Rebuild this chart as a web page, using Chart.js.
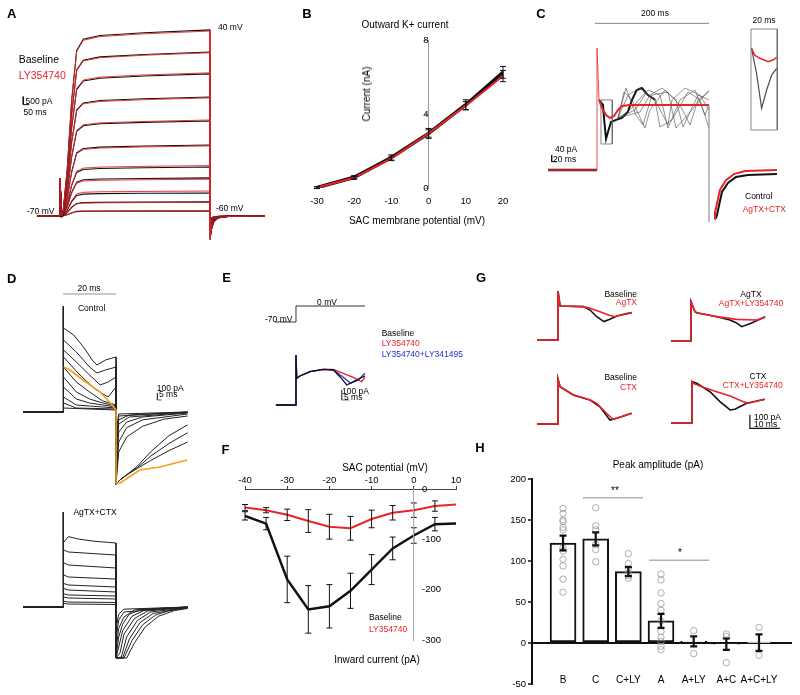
<!DOCTYPE html>
<html>
<head>
<meta charset="utf-8">
<title>SAC currents</title>
<script src="https://cdn.jsdelivr.net/npm/chart.js@4.4.1/dist/chart.umd.min.js"></script>
<style>
    body { margin: 0; background: #fff; }
    #fig { position: relative; width: 800px; height: 695px; overflow: hidden; font-family: "Liberation Sans", Arial, sans-serif; color: #000; }
    #fig canvas { position: absolute; }
    .t { position: absolute; white-space: nowrap; font-size: 8.5px; line-height: 1; }
    .m { font-size: 10px; }
    .l { font-size: 10.5px; }
    .p { font-size: 13px; font-weight: bold; }
    .red { color: #e8232a; }
    .blue { color: #2a2ad4; }
</style>
</head>
<body>
<div id="fig"></div>
<script>
const RED = '#e8232a', BLACK = '#111111', GRAY = '#8a8a8a', ORANGE = '#f5a01a', BLUE = '#2a2ad4', SWEEP = '#4a4a4a';

// ---- A: K+ current family (ms, pA) ----
const aStepMv = [-60, -50, -40, -30, -20, -10, 0, 10, 20, 30, 40];
const aBaselinePa = [310, 880, 1440, 2380, 3060, 4440, 5940, 7440, 8880, 10250, 11630];
const aLyPa = [340, 850, 1560, 2300, 3150, 4380, 6000, 7380, 8950, 10200, 11560];
const aTailDipPa = [-200, -350, -500, -650, -800, -950, -1100, -1200, -1300, -1400, -1500];
const aSpikePa = 2375;
const aRiseMs = [25, 60, 97, 139, 194, 333, 700, 1250];
const aRiseFrac = [0.02, 0.25, 0.62, 0.89, 0.95, 0.97, 0.985, 1];
const aTailMs = [1265, 1285, 1320, 1400, 1708];
const aTailFrac = [0.5, 0.22, 0.08, 0.02, 0];
const aScaleBar = [[-306, 7460], [-306, 6960], [-256, 6960]];

// ---- B: I-V of outward current (mV, nA) ----
const bMv = [-30, -20, -10, 0, 10, 20];
const bBaselineNa = [0.02, 0.58, 1.65, 2.95, 4.5, 6.25];
const bBaselineSem = [0.05, 0.09, 0.14, 0.27, 0.27, 0.32];
const bLyNa = [0.02, 0.55, 1.6, 2.95, 4.45, 6.05];
const bLySem = [0.05, 0.08, 0.12, 0.2, 0.22, 0.3];

// ---- C: control vs AgTX+CTX (ms, pA) ----
const cHolding = [[-87.5, 0], [0, 0]];
const cOnset = [[0, 0], [0, 750], [3.6, 431]];
const cOffset = [[200, 400], [200, -320]];
const cRed = [[3.6, 431], [8.9, 381], [16.1, 338], [23.2, 320], [30.4, 332], [37.5, 369], [44.6, 394], [58.9, 400], [200, 400]];
const cRedTail = [[209, -300], [210.7, -264], [219.6, -123], [230.4, -62], [244.7, -25], [264.3, -6], [321.4, 0]];
const cBlack = [[3.6, 431], [10.7, 400], [12.5, 320], [16.1, 191], [19.6, 234], [25, 295], [34, 308], [44.6, 320], [55, 357], [62.5, 431], [71, 492], [80, 504], [91, 461], [104, 431]];
const cBlackTail = [[212, -300], [214.3, -277], [223.2, -135], [233.9, -80], [248.2, -43], [269.6, -31], [321.4, -25]];
const cSweeps = [
    [[37.5, 320], [55.4, 461], [76.8, 504], [103.6, 431], [126.8, 277], [133.9, 431], [157.1, 504], [183.9, 461], [200, 369]],
    [[37.5, 320], [48.2, 480], [62.5, 431], [85.7, 258], [94.6, 369], [121.4, 492], [148.2, 400], [166.1, 277], [180.4, 431], [200, 480]],
    [[37.5, 320], [67.9, 369], [91.1, 492], [112.5, 461], [126.8, 258], [148.2, 431], [175, 492], [192.9, 338], [200, 400]],
    [[37.5, 320], [58.9, 369], [85.7, 474], [103.6, 431], [112.5, 264], [133.9, 308], [162.5, 480], [183.9, 431], [200, 258]],
    [[37.5, 320], [51.8, 504], [69.6, 338], [82.1, 277], [98.2, 461], [126.8, 480], [141.1, 258], [169.6, 369], [200, 492]],
    [[37.5, 320], [76.8, 357], [94.6, 461], [116.1, 504], [141.1, 431], [153.6, 264], [180.4, 461], [200, 431]]
];
const cRedInset = [[276, 748], [282, 705], [291, 687], [306, 666], [315, 678], [321, 693]];
const cBlackInset = [[276, 748], [285, 595], [294, 379], [303, 492], [312, 584], [321, 625]];
const cInsetBox = [[275, 867], [322, 867], [322, 246], [275, 246], [275, 867]];
const cZoomBox = [[7.1, 431], [27.3, 431], [27.3, 160], [7.1, 160], [7.1, 431]];
const cTimeBar = [[-3.6, 902], [200, 902]];
const cScaleBar = [[-81, 92], [-81, 51], [-72, 51]];

// ---- D: step family, control and AgTX+CTX (ms, pA) ----
const dSpikePa = 1480;
const dCtrlStep = [
    [[0.3, 1176], [4, 1078], [8, 896], [11, 728], [12.8, 658], [16, 728], [20, 770]],
    [[0.3, 1008], [5, 840], [10, 630], [12.8, 546], [16, 588], [20, 630]],
    [[0.3, 868], [5, 700], [10, 518], [14, 378], [17, 420], [20, 490]],
    [[0.3, 770], [6, 532], [12, 322], [17, 210], [20, 350]],
    [[0.3, 630], [5, 420], [10, 280], [15, 154], [20, 98]],
    [[0.3, 490], [5, 280], [10, 182], [15, 126], [20, 84]],
    [[0.3, 350], [5, 182], [10, 126], [15, 98], [20, 70]],
    [[0.3, 210], [5, 98], [10, 84], [20, 56]],
    [[0.3, 126], [5, 56], [20, 42]],
    [[0.3, 56], [20, 28]]
];
const dCtrlTail = [
    [[20, -1010], [21.5, -950], [24, -880], [28, -760], [33, -560], [40, -330], [47, -180]],
    [[20, -1010], [21.5, -950], [24, -880], [28, -780], [33, -620], [40, -440], [47, -290]],
    [[20, -1010], [21.5, -950], [24, -880], [28, -790], [33, -680], [40, -540], [47, -420]],
    [[20, -1010], [21, -560], [24, -350], [30, -200], [38, -100], [47, -56]],
    [[20, -980], [21, -420], [24, -220], [30, -110], [47, -28]],
    [[20, -910], [21, -280], [24, -140], [30, -70], [47, -14]],
    [[20, -700], [21, -170], [25, -70], [47, -7]],
    [[20, -560], [21, -110], [25, -42], [47, 0]],
    [[20, -420], [21, -56], [47, 0]],
    [[20, -280], [21, -28], [47, 0]]
];
const dOrangeStep = [[0.3, 630], [2.6, 588], [7.5, 448], [14, 280], [18.5, 98], [20, 28]];
const dOrangeTail = [[20, -994], [21.5, -994], [29, -812], [36.6, -770], [46.8, -672]];
const dTimeBar = [[0, 1652], [20, 1652]];
const dScaleBar = [[35.6, 266], [35.6, 168], [37.2, 168]];
const dToxSpikePa = 1330;
const dToxStep = [
    [[0.3, 900], [2, 985], [6, 950], [12, 920], [20, 896]],
    [[0.3, 800], [2, 770], [20, 728]],
    [[0.3, 620], [2, 588], [20, 546]],
    [[0.3, 450], [2, 420], [20, 392]],
    [[0.3, 330], [2, 308], [20, 280]],
    [[0.3, 260], [2, 238], [20, 210]],
    [[0.3, 185], [2, 168], [20, 154]],
    [[0.3, 140], [2, 126], [20, 112]],
    [[0.3, 80], [2, 70], [20, 63]],
    [[0.3, 50], [2, 42], [20, 35]]
];
const dToxTail = [
    [[20, -714], [24, -714], [27, -500], [31, -280], [36, -130], [42, -50], [47, -20]],
    [[20, -714], [23, -714], [26, -470], [30, -250], [35, -110], [41, -40], [47, -15]],
    [[20, -714], [22.5, -714], [25, -450], [29, -220], [34, -90], [47, -10]],
    [[20, -714], [22, -700], [24, -420], [28, -190], [33, -70], [47, -8]],
    [[20, -714], [21.5, -640], [23, -380], [27, -160], [32, -55], [47, -5]],
    [[20, -714], [21, -560], [22.5, -330], [26, -130], [31, -40], [47, 0]],
    [[20, -700], [21, -420], [22.5, -240], [25, -100], [30, -30], [47, 0]],
    [[20, -600], [21, -300], [23, -140], [27, -40], [47, 0]],
    [[20, -450], [21, -180], [23, -70], [47, 0]],
    [[20, -300], [21, -100], [23, -30], [47, 0]]
];

// ---- E: 0 mV step, three conditions (ms, pA; protocol in mV) ----
const eSpikePa = 500;
const eBlack = [[0.5, 267], [2.6, 290], [9.2, 333], [18, 357], [24.6, 350], [28.9, 283], [33.4, 200], [37.7, 233], [45.4, 290]];
const eRed = [[0.5, 267], [2.6, 290], [9.2, 333], [18, 357], [24.6, 357], [31.1, 317], [37.7, 277], [43.2, 233], [45.4, 277]];
const eBlue = [[0.5, 267], [2.6, 290], [9.2, 333], [18, 357], [24.6, 350], [30, 290], [36, 217], [41, 250], [45.4, 317]];
const eProtocolMs = [-13.8, 0, 0, 45.4];
const eProtocolMv = [-70, -70, 0, 0];
const eScaleBar = [[30.1, 150], [30.1, 50], [35.1, 50]];

// ---- F: inward current I-V (mV, pA) ----
const fMv = [-40, -35, -30, -25, -20, -15, -10, -5, 0, 5, 10];
const fBaselinePa = [-52, -67, -175, -233, -227, -197, -156, -115, -90, -68, -67];
const fBaselineSem = [8, 12, 45, 46, 42, 34, 29, 22, 15, 13, null];
const fLyPa = [-36, -41, -50, -62, -73, -76, -58, -46, -41, -33, -30];
const fLySem = [6, 5, 11, 22, 24, 23, 17, 14, 14, 10, null];

// ---- G: toxin pairs (ms, pA) ----
const g1Black = [[0.7, 250], [8.4, 245], [10.7, 220], [12.9, 171], [15.3, 135], [17.3, 152], [19.6, 176], [24.6, 201]];
const g1Red = [[0.7, 250], [8.4, 245], [10.7, 233], [14, 208], [16.8, 184], [19, 171], [21.8, 189], [24.6, 201]];
const g2Black = [[1.3, 216], [1.9, 208], [8.6, 179], [13, 154], [15, 135], [16.9, 105], [20, 130], [24.7, 179]];
const g2Red = [[1.3, 216], [1.9, 208], [8.6, 179], [15.2, 159], [21.9, 154], [24.7, 174]];
const g3Black = [[0.7, 274], [5.1, 213], [10.7, 176], [14, 127], [17.3, 29], [19.6, 42], [24.6, 79]];
const g3Red = [[0.7, 274], [5.1, 213], [10.7, 176], [12.9, 152], [16.2, 79], [18.3, 35], [21.1, 54], [24.6, 79]];
const g4Black = [[1.6, 292], [6, 230], [9.3, 157], [12.7, 96], [14.3, 101], [18.2, 145], [24.3, 174]];
const g4Red = [[0.4, 292], [3.8, 262], [8.2, 230], [12.7, 198], [17.1, 157], [18.8, 145], [24.3, 174]];
const gSpikePa = [360, 289, 331, 304];
const gScaleBar = [[19.3, 61], [19.3, -39], [29.3, -39]];

// ---- H: peak amplitude (pA) ----
const hGroups = ['B', 'C', 'C+LY', 'A', 'A+LY', 'A+C', 'A+C+LY'];
const hMean = [122, 127, 87, 27, 2, -1.5, 0.5];
const hSem = [9, 8, 5.5, 8.5, 6, 7, 10];
const hCells = [
    [164, 158, 150, 148, 141, 138, 116, 112, 102, 94, 78, 62],
    [165, 143, 138, 120, 114, 99],
    [109, 97, 91, 85, 82, 79],
    [84, 77, 61, 48, 40, 27, 14, 7, 2, -4, -8],
    [15, -13],
    [11, 8, -24],
    [19, -15]
];
const hSigLine1 = [[1.61, 177], [3.45, 177]];
const hSigLine2 = [[3.63, 101], [5.47, 101]];

Chart.defaults.font.family = '"Liberation Sans", Arial, sans-serif';
Chart.defaults.color = '#000';

const fig = document.getElementById('fig');

// error bars drawn through the dataset's own y scale
const errorBars = {
    id: 'errorBars',
    afterDatasetsDraw(chart) {
        const ctx = chart.ctx;
        chart.data.datasets.forEach((ds, i) => {
            if (!ds.errors) return;
            const meta = chart.getDatasetMeta(i);
            const yScale = chart.scales[meta.yAxisID];
            const cap = ds.capWidth || 3;
            ctx.save();
            ctx.strokeStyle = ds.errorColor || BLACK;
            ctx.lineWidth = ds.errorWidth || 1;
            meta.data.forEach((el, j) => {
                const err = ds.errors[j];
                if (!err) return;
                const p = ds.data[j];
                const v = Array.isArray(p) ? p[1] : p.y;
                const top = yScale.getPixelForValue(v + err);
                const bot = yScale.getPixelForValue(v - err);
                ctx.beginPath();
                ctx.moveTo(el.x, top);
                ctx.lineTo(el.x, bot);
                ctx.moveTo(el.x - cap, top);
                ctx.lineTo(el.x + cap, top);
                ctx.moveTo(el.x - cap, bot);
                ctx.lineTo(el.x + cap, bot);
                ctx.stroke();
            });
            ctx.restore();
        });
    }
};

function addCanvas(left, top, width, height) {
    const c = document.createElement('canvas');
    c.width = width;
    c.height = height;
    c.style.left = left + 'px';
    c.style.top = top + 'px';
    fig.appendChild(c);
    return c;
}

function addText(text, x, y, cls, align, rotate) {
    const el = document.createElement('div');
    el.className = 't ' + (cls || '');
    el.textContent = text;
    el.style.left = x + 'px';
    el.style.top = y + 'px';
    const shift = {l: '0', c: '-50%', r: '-100%'}[align || 'l'];
    el.style.transform = 'translate(' + shift + ', -50%)' + (rotate ? ' rotate(-90deg)' : '');
    fig.appendChild(el);
}

function xy(xs, ys) {
    return xs.map((x, i) => ({x: x, y: ys[i]}));
}

function line(data, color, width, extra) {
    return Object.assign({data: data, borderColor: color, borderWidth: width, pointRadius: 0, fill: false, tension: 0}, extra || {});
}

function hidden(min, max) {
    return {type: 'linear', display: false, min: min, max: max};
}

function baseOptions(scales, padding) {
    return {
        responsive: false,
        animation: false,
        events: [],
        layout: {padding: padding || 0},
        plugins: {legend: {display: false}, tooltip: {enabled: false}},
        scales: scales
    };
}

// datasets listed bottom to top
function traceChart(canvas, xScale, yScale, datasets, extraScales) {
    return new Chart(canvas, {
        type: 'line',
        data: {datasets: datasets.slice().reverse()},
        options: baseOptions(Object.assign({x: xScale, y: yScale}, extraScales || {}))
    });
}

function stepTrace(x0, spike, pts) {
    return [[x0, 0], [0, 0], [0, spike]].concat(pts);
}

// ---------- A ----------
function aSweep(level, dip) {
    const pts = [[-192, 0], [0, 0], [0, aSpikePa], [12, 0]];
    aRiseMs.forEach((t, i) => pts.push([t, level * aRiseFrac[i]]));
    pts.push([1250, dip]);
    aTailMs.forEach((t, i) => pts.push([t, dip * aTailFrac[i]]));
    return pts;
}
const aSets = [];
aStepMv.forEach((mv, i) => {
    aSets.push(line(aSweep(aBaselinePa[i], aTailDipPa[i]), BLACK, 1.1));
    aSets.push(line(aSweep(aLyPa[i], aTailDipPa[i] * 0.95), RED, 0.9));
});
aSets.push(line(aScaleBar, BLACK, 1));
traceChart(addCanvas(0, 20, 270, 240), hidden(-500, 1750), hidden(-2750, 12250), aSets);

// ---------- B ----------
new Chart(addCanvas(290, 30, 230, 200), {
    type: 'line',
    data: {datasets: [
        line(xy(bMv, bLyNa), RED, 2, {errors: bLySem}),
        line(xy(bMv, bBaselineNa), BLACK, 3.5, {errors: bBaselineSem})
    ]},
    options: baseOptions({
        x: {type: 'linear', min: -30, max: 20,
            ticks: {stepSize: 10, padding: 8, font: {size: 9.5}},
            grid: {display: false, drawTicks: false}, border: {display: false},
            afterFit: s => { s.height = 40; }},
        y: {type: 'linear', min: 0, max: 8, position: {x: 0},
            ticks: {stepSize: 4, padding: 1, font: {size: 9.5}},
            grid: {drawOnChartArea: false, tickLength: 4, color: '#999'},
            border: {color: '#999'}}
    }, {left: 27, right: 17, top: 10, bottom: 2}),
    plugins: [errorBars]
});

// ---------- C ----------
const cSets = [line(cHolding, BLACK, 2.5), line(cHolding, RED, 1.5), line(cBlack, BLACK, 2)];
cSweeps.forEach(s => cSets.push(line(s, SWEEP, 0.6)));
cSets.push(line(cBlackTail, BLACK, 2), line(cRed, RED, 2), line(cRedTail, RED, 2));
cSets.push(line(cOnset, RED, 0.8), line(cOffset, '#999', 0.6));
cSets.push(line(cBlackInset, SWEEP, 1.2), line(cRedInset, RED, 1.5));
cSets.push(line(cInsetBox, '#666', 0.8), line(cZoomBox, '#666', 0.8), line(cTimeBar, '#666', 0.8), line(cScaleBar, BLACK, 1));
traceChart(addCanvas(530, 0, 270, 260), hidden(-119.7, 362.6), hidden(-553.5, 1045.5), cSets);

// ---------- D ----------
const dSets = [];
dCtrlStep.forEach((s, i) => dSets.push(line(stepTrace(-15.1, dSpikePa, s).concat(dCtrlTail[i]), '#222', 1)));
dSets.push(line(dOrangeStep.concat(dOrangeTail), ORANGE, 1.6));
dSets.push(line(dTimeBar, '#777', 0.8), line(dScaleBar, '#333', 0.8));
traceChart(addCanvas(0, 280, 230, 230), hidden(-23.8, 63), hidden(-1372, 1848), dSets);

const dToxSets = dToxStep.map((s, i) => line(stepTrace(-15.1, dToxSpikePa, s).concat(dToxTail[i]), '#222', 1));
traceChart(addCanvas(0, 500, 230, 190), hidden(-23.8, 63), hidden(-1162, 1498), dToxSets);

// ---------- E ----------
traceChart(addCanvas(230, 285, 310, 145), hidden(-43.4, 160.5), hidden(-250, 1200), [
    line(xy(eProtocolMs, eProtocolMv), '#333', 1, {yAxisID: 'v'}),
    line(stepTrace(-13.2, eSpikePa, eRed), RED, 1.3),
    line(stepTrace(-13.2, eSpikePa, eBlue), BLUE, 1.3),
    line(stepTrace(-13.2, eSpikePa, eBlack), BLACK, 1.3),
    line(eScaleBar, '#555', 0.8)
], {v: hidden(-542.5, 91.9)});

// ---------- F ----------
new Chart(addCanvas(225, 470, 250, 185), {
    type: 'line',
    data: {datasets: [
        line(xy(fMv, fBaselinePa), BLACK, 2.5, {errors: fBaselineSem}),
        line(xy(fMv, fLyPa), RED, 2, {errors: fLySem})
    ]},
    options: baseOptions({
        x: {type: 'linear', position: 'top', min: -40, max: 10,
            ticks: {stepSize: 10, padding: 0, font: {size: 9.5}},
            grid: {drawOnChartArea: false, tickLength: 3, color: '#444'},
            border: {color: '#444'},
            afterFit: s => { s.height = 19; }},
        y: hidden(-300, 0)
    }, {left: 20, right: 19, top: 0, bottom: 11}),
    plugins: [errorBars]
});
// current axis sits at 0 mV with its labels on the right
new Chart(addCanvas(412, 470, 60, 185), {
    type: 'line',
    data: {datasets: []},
    options: baseOptions({
        x: hidden(0, 1),
        y: {type: 'linear', position: 'left', min: -300, max: 0,
            ticks: {stepSize: 100, mirror: true, padding: 9, font: {size: 9.5}},
            grid: {display: false, drawTicks: false},
            border: {color: '#aaa'},
            afterFit: s => { s.width = 0; }}
    }, {left: 1, right: 0, top: 19, bottom: 11})
});

// ---------- G ----------
const gLayout = [
    {left: 533, top: 285, x0: -7, black: g1Black, red: g1Red, x: [-8.33, 35], y: [-73.5, 404]},
    {left: 667, top: 285, x0: -6.7, black: g2Black, red: g2Red, x: [-8, 35.3], y: [-66, 411.6]},
    {left: 533, top: 370, x0: -7, black: g3Black, red: g3Red, x: [-8.33, 35], y: [-81, 397]},
    {left: 667, top: 370, x0: -7, black: g4Black, red: g4Red, x: [-8.33, 35], y: [-88, 389.6]}
];
gLayout.forEach((g, i) => {
    const sets = [
        line(stepTrace(g.x0, gSpikePa[i], g.black), BLACK, 1.6),
        line(stepTrace(g.x0, gSpikePa[i], g.red), RED, 1.6)
    ];
    if (i === 3) sets.push(line(gScaleBar, BLACK, 1.2));
    traceChart(addCanvas(g.left, g.top, 130, 65), hidden(g.x[0], g.x[1]), hidden(g.y[0], g.y[1]), sets);
});

// ---------- H ----------
const hPos = hGroups.map((g, i) => i + 1);
const hCellPts = [];
hCells.forEach((vals, i) => vals.forEach(v => hCellPts.push([i + 1, v])));

new Chart(addCanvas(490, 470, 310, 225), {
    type: 'bar',
    data: {datasets: [
        {type: 'line', data: hCellPts, showLine: false, pointRadius: 3.2, pointBorderWidth: 0.8,
            pointBorderColor: '#9a9a9a', pointBackgroundColor: 'rgba(255,255,255,0)'},
        line(hSigLine1, GRAY, 1, {type: 'line'}),
        line(hSigLine2, GRAY, 1, {type: 'line'}),
        {type: 'bar', data: xy(hPos, hMean), errors: hSem, errorWidth: 2.2, capWidth: 3.5,
            backgroundColor: '#fff', borderColor: BLACK, borderWidth: 2, borderSkipped: false, barThickness: 26}
    ]},
    options: baseOptions({
        x: {type: 'linear', min: 0.05, max: 8.01, offset: false, position: {y: -35},
            afterBuildTicks: s => { s.ticks = hPos.map(v => ({value: v})); },
            ticks: {callback: v => hGroups[v - 1], autoSkip: false, maxRotation: 0, padding: 3, font: {size: 10}},
            grid: {display: false, drawTicks: false, offset: false}, border: {display: false}},
        y: {type: 'linear', min: -50, max: 200,
            ticks: {stepSize: 50, padding: 2, font: {size: 9.5}},
            grid: {color: c => (c.tick && c.tick.value === 0) ? BLACK : 'rgba(0,0,0,0)', lineWidth: 2,
                tickColor: BLACK, tickLength: 4, tickWidth: 1.5},
            border: {color: BLACK, width: 2},
            afterFit: s => { s.width = 42; }}
    }, {left: 0, right: 8, top: 9, bottom: 11}),
    plugins: [errorBars]
});

// ---------- text ----------
addText('A', 11.7, 13, 'p', 'c');
addText('B', 307, 13, 'p', 'c');
addText('C', 541, 12.5, 'p', 'c');
addText('D', 11.7, 277.5, 'p', 'c');
addText('E', 226.5, 277, 'p', 'c');
addText('F', 225.5, 448.5, 'p', 'c');
addText('G', 481, 276.7, 'p', 'c');
addText('H', 480, 447, 'p', 'c');

addText('40 mV', 218, 27);
addText('-60 mV', 216, 208);
addText('-70 mV', 27, 211);
addText('Baseline', 18.7, 59, 'l');
addText('LY354740', 18.7, 75, 'l red');
addText('500 pA', 25.5, 100.8);
addText('50 ms', 23.5, 112);

addText('Outward K+ current', 405, 25, 'm', 'c');
addText('Current (nA)', 366.7, 94, 'm', 'c', true);
addText('SAC membrane potential (mV)', 417, 220.7, 'm', 'c');

addText('200 ms', 655, 12.7, '', 'c');
addText('20 ms', 764, 20, '', 'c');
addText('40 pA', 555, 149);
addText('20 ms', 553, 158.7);
addText('Control', 745, 196);
addText('AgTX+CTX', 742.7, 209, 'red');

addText('20 ms', 89, 288, '', 'c');
addText('Control', 91.7, 308, '', 'c');
addText('100 pA', 156.7, 388);
addText('5 ms', 159, 394);
addText('AgTX+CTX', 95, 511.7, '', 'c');

addText('-70 mV', 265, 319);
addText('0 mV', 327, 301.5, '', 'c');
addText('Baseline', 381.7, 333);
addText('LY354740', 381.7, 343, 'red');
addText('LY354740+LY341495', 381.7, 354.3, 'blue');
addText('100 pA', 342, 390.5);
addText('5 ms', 344, 396.5);

addText('SAC potential (mV)', 385, 468, 'm', 'c');
addText('Baseline', 369, 617);
addText('LY354740', 369, 629, 'red');
addText('Inward current (pA)', 377, 660, 'm', 'c');

addText('Baseline', 637, 294, '', 'r');
addText('AgTX', 637, 302, 'red', 'r');
addText('AgTX', 751, 294, '', 'c');
addText('AgTX+LY354740', 751, 303, 'red', 'c');
addText('Baseline', 637, 377, '', 'r');
addText('CTX', 637, 386.7, 'red', 'r');
addText('CTX', 758, 376, '', 'c');
addText('CTX+LY354740', 752.7, 385, 'red', 'c');
addText('100 pA', 754, 417);
addText('10 ms', 754, 424);

addText('Peak amplitude (pA)', 658, 465, 'm', 'c');
addText('**', 615, 491, 'm', 'c');
addText('*', 680, 553, 'm', 'c');
</script>
</body>
</html>
